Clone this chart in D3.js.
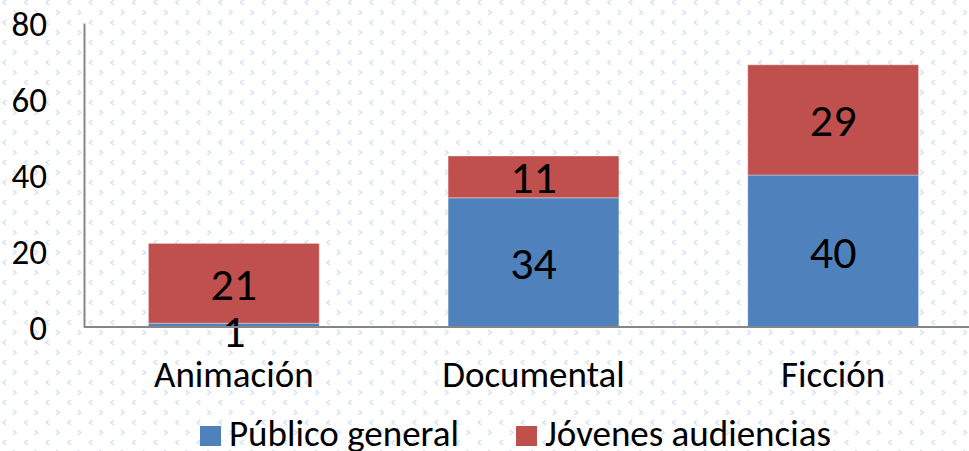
<!DOCTYPE html>
<html><head><meta charset="utf-8">
<script src="https://cdn.jsdelivr.net/npm/d3@7"></script>
<style>html,body{margin:0;padding:0;background:#fff;}svg{display:block;}</style>
</head><body>
<svg id="chart" width="969" height="451"></svg>
<script>
const categories = ["Animación", "Documental", "Ficción"];
const seriesNames = ["Público general", "Jóvenes audiencias"];
const publicoGeneral = [1, 34, 40];
const jovenesAudiencias = [21, 11, 29];
const yTicks = [0, 20, 40, 60, 80];
const colors = ["#4F81BD", "#C0504D"];

const FONT = "Carlito, Lato, 'Open Sans', sans-serif";
const svg = d3.select("#chart");
const W = 969, H = 451;

// background pattern
const defs = svg.append("defs");
const pat = defs.append("pattern").attr("id", "bg").attr("patternUnits", "userSpaceOnUse")
  .attr("width", 21.6).attr("height", 20);
pat.append("path").attr("d", "M6,0 L3,2.5 L6,5").attr("fill", "none").attr("stroke", "#d3e0f0").attr("stroke-width", 1.5);
pat.append("path").attr("d", "M13,10 L16,12.5 L13,15").attr("fill", "none").attr("stroke", "#d3e0f0").attr("stroke-width", 1.5);
svg.append("rect").attr("width", W).attr("height", H).attr("fill", "#fff");
svg.append("rect").attr("width", W).attr("height", H).attr("fill", "url(#bg)");

const x = d3.scaleBand().domain(categories).range([84, 983]).paddingInner(0.43).paddingOuter(0.215);
const y = d3.scaleLinear().domain([0, 80]).range([327, 23]);

const data = categories.map((c, i) => ({cat: c, a: publicoGeneral[i], b: jovenesAudiencias[i]}));
const stack = d3.stack().keys(["a", "b"])(data);

const g = svg.append("g");
stack.forEach((layer, li) => {
  g.selectAll(null).data(layer).enter().append("rect")
    .attr("x", d => x(d.data.cat))
    .attr("width", x.bandwidth())
    .attr("y", d => y(d[1]))
    .attr("height", d => y(d[0]) - y(d[1]))
    .attr("fill", colors[li])
    .attr("stroke", "rgba(255,255,255,0.35)")
    .attr("stroke-width", 1);
});

// axes
const yAxis = d3.axisLeft(y).tickValues(yTicks).tickSize(0).tickPadding(0);
const ya = svg.append("g").attr("transform", "translate(84,0)").call(yAxis);
ya.select(".domain").attr("stroke", "#868686").attr("stroke-width", 2);
ya.selectAll("text").attr("x", -37).attr("dy", "0.36em").attr("font-family", FONT).attr("font-size", 35).attr("fill", "#000");

const xAxis = d3.axisBottom(x).tickSize(0).tickPadding(0);
const xa = svg.append("g").attr("transform", "translate(0,327)").call(xAxis);
xa.select(".domain").attr("d", "M84,0H969").attr("stroke", "#868686").attr("stroke-width", 2);
xa.selectAll("text").attr("y", 60).attr("dy", 0).attr("font-family", FONT).attr("font-size", 37).attr("fill", "#000");

// data labels
stack.forEach((layer, li) => {
  g.selectAll(null).data(layer).enter().append("text")
    .attr("x", d => x(d.data.cat) + x.bandwidth() / 2)
    .attr("y", d => (y(d[0]) + y(d[1])) / 2 + (li === 0 && d[1] - d[0] < 3 ? 5 : 0))
    .attr("dy", "0.36em")
    .attr("text-anchor", "middle")
    .attr("font-family", FONT).attr("font-size", 46).attr("fill", "#000")
    .text(d => d[1] - d[0]);
});

// legend
const legendX = [200, 516];
seriesNames.forEach((n, i) => {
  svg.append("rect").attr("x", legendX[i]).attr("y", 426).attr("width", 21).attr("height", 20).attr("fill", colors[i]);
  svg.append("text").attr("x", legendX[i] + 29).attr("y", 446).attr("font-family", FONT).attr("font-size", 37).attr("fill", "#000").text(n);
});
</script>
</body></html>
